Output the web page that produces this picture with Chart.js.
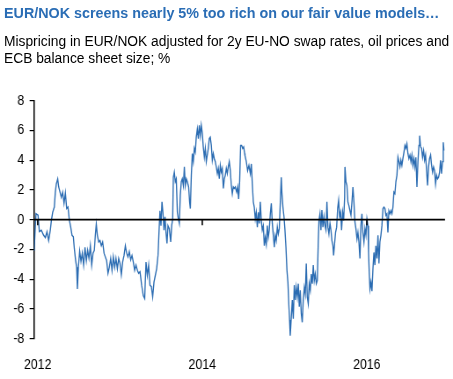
<!DOCTYPE html>
<html>
<head>
<meta charset="utf-8">
<script src="https://cdn.jsdelivr.net/npm/chart.js@4/dist/chart.umd.min.js"></script>
<style>
  html, body { margin: 0; padding: 0; background: #fff; overflow: hidden; }
  #wrap { position: absolute; left: 0; top: 0; width: 515px; height: 379px; transform: scaleX(0.8796); transform-origin: 0 0; }
  #title { position: absolute; left: 3.8px; top: 3.6px; font: bold 15px/17px 'Liberation Sans', Arial, sans-serif; color: #2a6db5; white-space: nowrap; transform: scaleX(0.955); transform-origin: 0 0; }
  #subtitle { position: absolute; left: 3.8px; top: 32.5px; font: 14px/17.3px 'Liberation Sans', Arial, sans-serif; color: #000; white-space: nowrap; transform: scaleX(0.985); transform-origin: 0 0; }
  canvas { position: absolute; left: 0; top: 0; }
</style>
</head>
<body>
<div id="wrap">
  <canvas id="c" width="515" height="379"></canvas>
</div>
<div id="title">EUR/NOK screens nearly 5% too rich on our fair value models…</div>
<div id="subtitle">Mispricing in EUR/NOK adjusted for 2y EU-NO swap rates, oil prices and<br>ECB balance sheet size; %</div>
<script>
// ---- data (x = decimal year, y = mispricing in %) ----
const dates2012 = [2011.956, 2011.979, 2012.004, 2012.020, 2012.044, 2012.072, 2012.093, 2012.113, 2012.133, 2012.153, 2012.166, 2012.182, 2012.202, 2012.214, 2012.226, 2012.243, 2012.255, 2012.271, 2012.287, 2012.303, 2012.320, 2012.336, 2012.352, 2012.368, 2012.384, 2012.401, 2012.417, 2012.433, 2012.445, 2012.461, 2012.473, 2012.482, 2012.494, 2012.510, 2012.526, 2012.542, 2012.558, 2012.575, 2012.591, 2012.607, 2012.623, 2012.640, 2012.656, 2012.672, 2012.688, 2012.700, 2012.712, 2012.725, 2012.741, 2012.757, 2012.773, 2012.789, 2012.806, 2012.822, 2012.838, 2012.854, 2012.870, 2012.887, 2012.903, 2012.919, 2012.935, 2012.951, 2012.968, 2012.984, 2013.000, 2013.016, 2013.032, 2013.049, 2013.065, 2013.081, 2013.097, 2013.113, 2013.130, 2013.146, 2013.162, 2013.178, 2013.194, 2013.211, 2013.227];
const values2012 = [-2.1, 0.4, 0.3, -0.8, -0.7, -1.05, -1.2, -0.8, -1.4, -0.7, -0.05, 0.5, 0.85, 1.85, 2.4, 2.75, 2.2, 1.85, 1.5, 1.85, 1.1, 1.8, 0.75, 0.85, 0, -0.5, -1.05, -1.15, -1.95, -2.75, -3.2, -4.65, -3.2, -2.1, -2.8, -2.25, -3.05, -1.85, -2.75, -2.05, -2.6, -1.75, -3.05, -2.25, -2.05, -1.05, -0.3, -1.05, -1.5, -1.4, -1.75, -1.5, -2.25, -2.5, -2.75, -3.6, -3.2, -2.6, -3.4, -2.5, -3.2, -2.6, -3.3, -2.6, -2.95, -3.7, -2.85, -2.4, -1.75, -2.25, -2.5, -2.15, -2.7, -2.4, -2.85, -3.4, -3.05, -3.4, -3.6];

const dates2013 = [2013.243, 2013.263, 2013.283, 2013.300, 2013.316, 2013.332, 2013.348, 2013.364, 2013.381, 2013.397, 2013.413, 2013.429, 2013.445, 2013.462, 2013.474, 2013.486, 2013.498, 2013.510, 2013.522, 2013.535, 2013.547, 2013.559, 2013.571, 2013.583, 2013.599, 2013.616, 2013.628, 2013.640, 2013.648, 2013.660, 2013.672, 2013.684, 2013.697, 2013.709, 2013.721, 2013.733, 2013.745, 2013.757, 2013.770, 2013.782, 2013.794, 2013.806, 2013.818, 2013.834, 2013.846, 2013.855, 2013.867, 2013.879, 2013.891, 2013.903, 2013.915, 2013.927, 2013.940, 2013.952, 2013.964, 2013.976, 2013.988, 2014.000, 2014.012, 2014.025, 2014.037, 2014.049, 2014.061, 2014.073, 2014.085, 2014.097, 2014.110, 2014.122, 2014.134, 2014.146, 2014.158, 2014.170, 2014.183, 2014.195, 2014.207, 2014.219, 2014.231, 2014.243, 2014.256, 2014.268, 2014.280, 2014.292, 2014.304, 2014.316, 2014.328, 2014.341, 2014.353, 2014.365, 2014.377, 2014.389, 2014.401, 2014.418, 2014.430, 2014.442, 2014.454, 2014.466, 2014.478, 2014.491, 2014.503, 2014.515];
const values2013 = [-3.5, -4.4, -5.1, -5.3, -2.85, -3.75, -3.05, -4.4, -4.5, -5.2, -4.2, -3.75, -3.3, -2.4, -0.85, 0.6, -0.4, 1.2, 0.5, -0.7, 0.2, -0.85, -1.6, -0.4, -0.6, -1.5, -0.4, 0.05, 2.85, 3.2, 2.55, 2.75, 0.5, 0.05, -0.25, 1.65, 2.55, 2.75, 2.3, 3.55, 2.3, 2.75, 2.55, 2.2, 1.2, 0.75, 3.0, 4.45, 3.9, 4.8, 4.55, 5.55, 6.1, 5.45, 6.35, 5.65, 6.35, 5.8, 4.9, 4.2, 4.8, 3.9, 4.35, 4.8, 5.45, 5.55, 5.0, 4.0, 4.45, 4.1, 3.9, 3.55, 3.1, 3.45, 2.75, 3.65, 3.2, 3.45, 2.1, 2.75, 3.0, 3.45, 3.1, 3.55, 3.9, 3.3, 2.3, 1.75, 2.2, 2.1, 2.2, 1.85, 2.2, 1.4, 2.55, 5.0, 5.0, 4.8, 4.9, 4.45];

const dates2014 = [2014.519, 2014.535, 2014.551, 2014.567, 2014.584, 2014.596, 2014.608, 2014.620, 2014.632, 2014.644, 2014.656, 2014.669, 2014.681, 2014.693, 2014.705, 2014.717, 2014.729, 2014.742, 2014.754, 2014.766, 2014.778, 2014.790, 2014.802, 2014.814, 2014.827, 2014.839, 2014.851, 2014.863, 2014.875, 2014.887, 2014.899, 2014.912, 2014.924, 2014.936, 2014.948, 2014.960, 2014.968, 2014.980, 2014.993, 2015.005, 2015.017, 2015.029, 2015.041, 2015.053, 2015.061, 2015.069, 2015.082, 2015.094, 2015.106, 2015.118, 2015.130, 2015.142, 2015.155, 2015.167, 2015.179, 2015.191, 2015.203, 2015.215, 2015.227, 2015.240, 2015.252, 2015.264, 2015.276, 2015.288, 2015.300, 2015.313, 2015.325, 2015.337, 2015.349, 2015.361, 2015.373, 2015.386, 2015.398, 2015.410, 2015.418, 2015.430, 2015.442, 2015.454, 2015.466, 2015.479, 2015.491, 2015.503, 2015.515, 2015.527, 2015.539, 2015.552, 2015.564, 2015.576, 2015.588, 2015.596, 2015.608, 2015.620, 2015.633, 2015.645, 2015.657, 2015.669, 2015.681, 2015.693, 2015.706, 2015.718, 2015.730];
const values2014 = [4.3, 3.9, 3.3, 3.65, 3.1, 3.75, 2.4, 1.2, 0.85, 0.05, 0.5, -0.5, 0.5, -0.25, 1.2, -0.05, -0.7, -0.4, -1.75, -1.2, -1.65, -0.4, -1.2, -0.7, 0.4, 1.1, -0.25, -1.05, -1.85, -1.05, -1.4, -0.5, -0.95, -0.6, 1.1, 2.85, 1.75, 0.85, 0.2, -0.7, -1.85, -3.4, -4.25, -5.85, -6.75, -7.8, -6.55, -5.4, -6.65, -4.4, -5.4, -4.55, -5.2, -4.3, -5.85, -4.75, -6.3, -6.9, -5.4, -4.55, -5.0, -2.95, -5.2, -5.65, -4.3, -4.75, -3.65, -4.3, -3.05, -4.1, -3.65, -4.3, -4.1, -1.4, -0.05, 0.4, -0.7, 0.65, -0.5, 0.2, -0.4, -0.7, 1.2, -0.5, -0.95, -0.25, -0.7, -1.4, -1.75, -2.4, -1.6, -0.85, -0.5, 0.75, 1.3, 0.2, 0.5, -0.7, 0.5, -0.05, 1.5];

const dates2016 = [2015.734, 2015.746, 2015.758, 2015.770, 2015.782, 2015.795, 2015.807, 2015.819, 2015.831, 2015.843, 2015.855, 2015.867, 2015.880, 2015.892, 2015.904, 2015.916, 2015.928, 2015.940, 2015.952, 2015.965, 2015.977, 2015.989, 2016.001, 2016.013, 2016.021, 2016.029, 2016.038, 2016.050, 2016.062, 2016.074, 2016.086, 2016.098, 2016.110, 2016.123, 2016.135, 2016.147, 2016.159, 2016.171, 2016.183, 2016.196, 2016.208, 2016.220, 2016.232, 2016.244, 2016.256, 2016.268, 2016.281, 2016.293, 2016.305, 2016.317, 2016.329, 2016.341, 2016.353, 2016.366, 2016.378, 2016.390, 2016.402, 2016.414, 2016.426, 2016.438, 2016.451, 2016.463, 2016.475, 2016.487, 2016.499, 2016.511, 2016.524, 2016.536, 2016.548, 2016.560, 2016.572, 2016.584, 2016.596, 2016.609, 2016.621, 2016.633, 2016.641, 2016.653, 2016.665, 2016.677, 2016.690, 2016.702, 2016.714, 2016.726, 2016.738, 2016.750, 2016.762, 2016.775, 2016.787, 2016.799, 2016.811, 2016.823, 2016.835, 2016.847, 2016.860, 2016.872, 2016.884, 2016.896, 2016.908, 2016.920, 2016.929, 2016.937];
const values2016 = [3.55, 2.55, 2.3, 1.2, 0.95, 0.6, 0.3, 1.2, 2.2, 1.2, -0.15, -0.6, -1.3, -0.85, -1.5, -2.6, -0.4, 0.4, -0.85, -1.5, -0.6, -1.05, 0.05, -0.4, -2.2, -3.5, -4.65, -4.2, -4.8, -3.3, -2.2, -3.05, -1.75, -2.6, -1.05, -2.95, -1.5, -1.05, -0.4, 0.75, 0.85, 0.75, 0.3, 0.4, -0.85, 0.6, 0.4, 0.6, 0.4, 0.85, 1.85, 1.75, 2.55, 3.0, 4.2, 3.9, 3.55, 4.0, 3.65, 4.1, 4.55, 5.0, 4.8, 5.1, 4.45, 4.1, 4.35, 3.9, 4.35, 3.65, 4.1, 3.55, 4.2, 2.2, 3.9, 5.0, 5.65, 4.9, 4.8, 4.2, 4.65, 4.0, 4.35, 3.3, 2.3, 3.55, 4.1, 4.35, 3.65, 3.2, 3.55, 3.3, 2.4, 3.0, 2.75, 2.85, 3.2, 4.0, 3.1, 3.9, 5.2, 4.65];

const yearTicks = [2012, 2014, 2016];
const yTickValues = [-8, -6, -4, -2, 0, 2, 4, 6, 8];
const xRange = [2011.955, 2016.95];
const yRange = [-8, 8];

// ---- build points ----
const allDates = [].concat(dates2012, dates2013, dates2014, dates2016);
const allValues = [].concat(values2012, values2013, values2014, values2016);
const points = [];
for (let i = 0; i < Math.min(allDates.length, allValues.length); i++) {
  points.push({ x: allDates[i], y: allValues[i] });
}

const FONT = "'Liberation Sans', Arial, sans-serif";

const zeroLinePlugin = {
  id: 'zeroLine',
  afterDatasetsDraw(chart) {
    const { ctx, chartArea, scales } = chart;
    const y0 = scales.y.getPixelForValue(0);
    ctx.save();
    ctx.strokeStyle = '#000';
    ctx.lineWidth = 1.7;
    ctx.beginPath();
    ctx.moveTo(chartArea.left, y0);
    ctx.lineTo(chartArea.right, y0);
    ctx.stroke();
    ctx.lineWidth = 1.6;
    yearTicks.forEach(v => {
      const x = scales.x.getPixelForValue(v);
      ctx.beginPath();
      ctx.moveTo(x, y0);
      ctx.lineTo(x, y0 + 5.5);
      ctx.stroke();
    });
    ctx.restore();
  }
};

new Chart(document.getElementById('c'), {
  type: 'line',
  data: {
    datasets: [{
      data: points,
      borderColor: '#2b6cb2',
      borderWidth: 1.35,
      pointRadius: 0,
      tension: 0,
      fill: false
    }]
  },
  options: {
    responsive: false,
    animation: false,
    devicePixelRatio: 1,
    layout: { padding: { top: 100.7, right: 9.1, bottom: 0, left: 0 } },
    plugins: { legend: { display: false }, tooltip: { enabled: false }, title: { display: false } },
    scales: {
      x: {
        type: 'linear',
        min: xRange[0],
        max: xRange[1],
        afterBuildTicks: (scale) => { scale.ticks = yearTicks.map(v => ({ value: v })); },
        afterFit: (scale) => { scale.height = 40.3; },
        grid: { display: false, drawTicks: false },
        border: { display: false },
        ticks: {
          autoSkip: false, maxRotation: 0, minRotation: 0, padding: 18,
          color: '#000', font: { family: FONT, size: 14 },
          callback: (v) => String(v)
        }
      },
      y: {
        min: yRange[0],
        max: yRange[1],
        afterBuildTicks: (scale) => { scale.ticks = yTickValues.map(v => ({ value: v })); },
        afterFit: (scale) => { scale.width = 38.65; },
        grid: { drawOnChartArea: false, drawTicks: true, tickLength: 5, color: '#000', lineWidth: 1.2 },
        border: { display: true, color: '#000', width: 1.5 },
        ticks: {
          padding: 6, color: '#000', font: { family: FONT, size: 14 },
          callback: (v) => String(v)
        }
      }
    }
  },
  plugins: [zeroLinePlugin]
});
</script>
</body>
</html>
